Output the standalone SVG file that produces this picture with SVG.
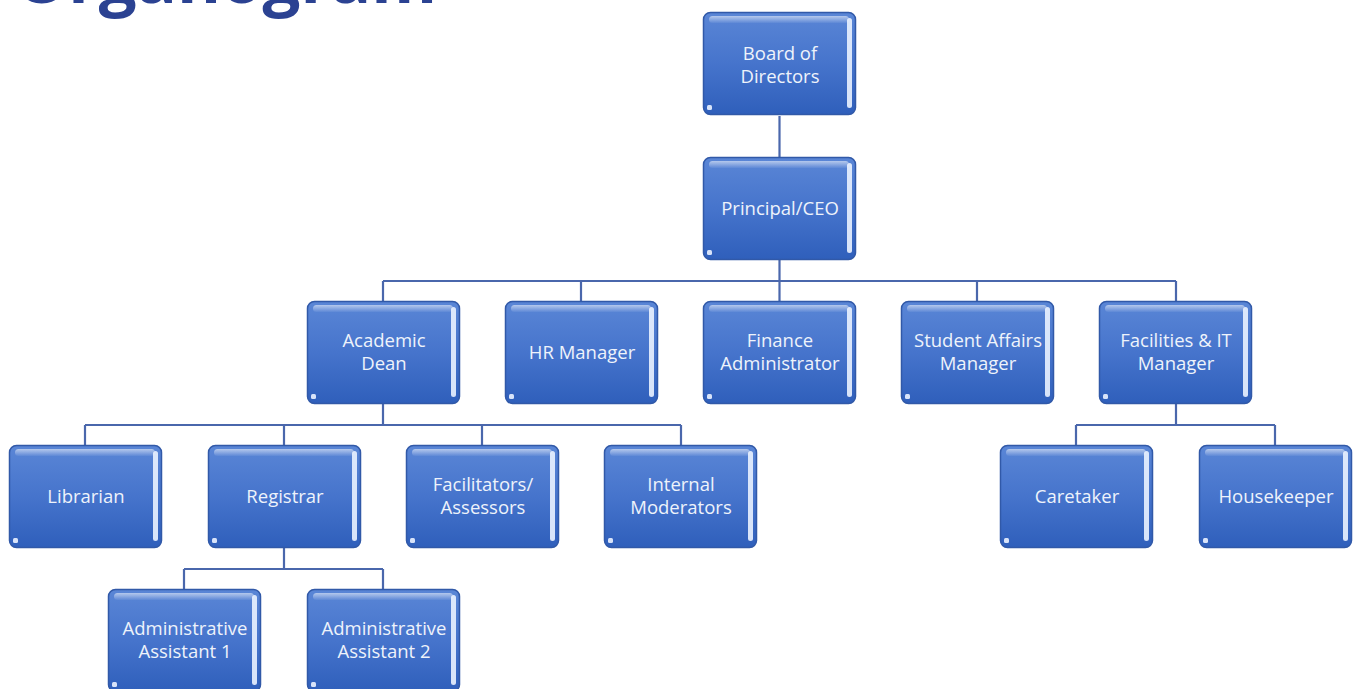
<svg xmlns="http://www.w3.org/2000/svg" xmlns:xlink="http://www.w3.org/1999/xlink" width="1357" height="689" viewBox="0 0 1357 689">
<style>
.t{font-family:"Open Sans","Liberation Sans",sans-serif;font-size:18.5px;fill:#eef3fb;text-anchor:middle}
.c{fill:none;stroke:#4a67ac;stroke-width:2.2}
.title{font-family:"Open Sans","Liberation Sans",sans-serif;font-weight:bold;font-size:67px;fill:#2b4292}
</style>
<defs>
<linearGradient id="bg" x1="0" y1="0" x2="0" y2="1">
<stop offset="0" stop-color="#5a86d6"/>
<stop offset="0.5" stop-color="#4674cc"/>
<stop offset="1" stop-color="#2f5fbb"/>
</linearGradient>
<linearGradient id="hl" x1="0" y1="0" x2="0" y2="1">
<stop offset="0" stop-color="#ffffff" stop-opacity="0.55"/>
<stop offset="1" stop-color="#ffffff" stop-opacity="0.05"/>
</linearGradient>
<g id="box">
<rect x="0.5" y="0.5" width="152" height="102" rx="7" fill="url(#bg)" stroke="#3159a8" stroke-width="1.5"/>
<rect x="6" y="4" width="140" height="7" rx="3.5" fill="url(#hl)"/>
<rect x="144" y="6" width="5" height="90" rx="2.5" fill="#eaf2ff" opacity="0.9"/>
<rect x="4" y="93" width="5" height="5" rx="1.5" fill="#eaf2ff" opacity="0.9"/>
</g>
</defs>
<text class="title" x="15" y="3">Organogram</text>
<g id="connectors">
<path class="c" d="M779.5 116V157M779.5 260V281M383 281H1176M383 281V301M581 281V301M779.5 281V301M977 281V301M1176 281V301"/>
<path class="c" d="M383 404V425M85 425H681M85 425V445M284 425V445M482 425V445M681 425V445"/>
<path class="c" d="M284 548V569M184 569H383M184 569V589M383 569V589"/>
<path class="c" d="M1176 404V425M1076 425H1275M1076 425V445M1275 425V445"/>
</g>
<g id="board"><use xlink:href="#box" x="703" y="12"/><text class="t" x="780" y="60">Board of</text><text class="t" x="780" y="83">Directors</text></g>
<g id="ceo"><use xlink:href="#box" x="703" y="157"/><text class="t" x="780" y="215">Principal/CEO</text></g>
<g id="dean"><use xlink:href="#box" x="307" y="301"/><text class="t" x="384" y="347">Academic</text><text class="t" x="384" y="370">Dean</text></g>
<g id="hr"><use xlink:href="#box" x="505" y="301"/><text class="t" x="582" y="359">HR Manager</text></g>
<g id="finance"><use xlink:href="#box" x="703" y="301"/><text class="t" x="780" y="347">Finance</text><text class="t" x="780" y="370">Administrator</text></g>
<g id="student"><use xlink:href="#box" x="901" y="301"/><text class="t" x="978" y="347">Student Affairs</text><text class="t" x="978" y="370">Manager</text></g>
<g id="facilities"><use xlink:href="#box" x="1099" y="301"/><text class="t" x="1176" y="347">Facilities &amp; IT</text><text class="t" x="1176" y="370">Manager</text></g>
<g id="librarian"><use xlink:href="#box" x="9" y="445"/><text class="t" x="86" y="503">Librarian</text></g>
<g id="registrar"><use xlink:href="#box" x="208" y="445"/><text class="t" x="285" y="503">Registrar</text></g>
<g id="facilitators"><use xlink:href="#box" x="406" y="445"/><text class="t" x="483" y="491">Facilitators/</text><text class="t" x="483" y="514">Assessors</text></g>
<g id="moderators"><use xlink:href="#box" x="604" y="445"/><text class="t" x="681" y="491">Internal</text><text class="t" x="681" y="514">Moderators</text></g>
<g id="caretaker"><use xlink:href="#box" x="1000" y="445"/><text class="t" x="1077" y="503">Caretaker</text></g>
<g id="housekeeper"><use xlink:href="#box" x="1199" y="445"/><text class="t" x="1276" y="503">Housekeeper</text></g>
<g id="admin1"><use xlink:href="#box" x="108" y="589"/><text class="t" x="185" y="635">Administrative</text><text class="t" x="185" y="658">Assistant 1</text></g>
<g id="admin2"><use xlink:href="#box" x="307" y="589"/><text class="t" x="384" y="635">Administrative</text><text class="t" x="384" y="658">Assistant 2</text></g>
</svg>
